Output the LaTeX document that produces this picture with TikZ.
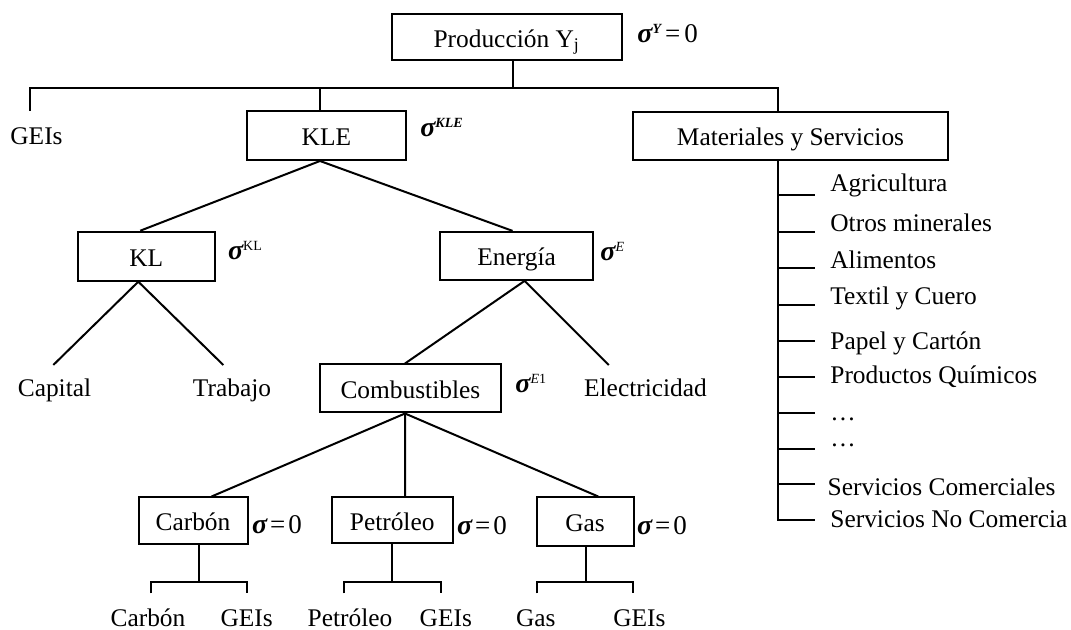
\documentclass[tikz,border=0pt]{standalone}
\usepackage{fontspec}
\setmainfont{Liberation Serif}
\newcommand\mysig{{\fontsize{14pt}{16pt}\selectfont\bfseries\itshape σ}}
\newcommand\mysup[1]{\raisebox{4.5pt}{\fontsize{7pt}{8pt}\selectfont #1}}
\begin{document}
\begin{tikzpicture}[x=0.5pt,y=-0.5pt,
  every node/.style={font=\fontsize{12.7pt}{15pt}\selectfont},
  box/.style={draw,line width=1pt,inner sep=0pt,text height=12pt,text depth=2pt},
  txt/.style={inner sep=0pt},
  sg/.style={inner sep=0pt,anchor=base west,font=\fontsize{13.5pt}{15pt}\selectfont},
  ln/.style={line width=1pt}]
\fill[white] (0,0) rectangle (1071,630);
\useasboundingbox (0,0) rectangle (1071,630);

% boxes
\node[box,minimum width=115pt,minimum height=23pt] (prod) at (506.7,37.2) {Producción Y\textsubscript{j}};
\node[box,minimum width=79.5pt,minimum height=24.5pt] (kle) at (326.4,135.5) {KLE};
\node[box,minimum width=157.5pt,minimum height=24pt] (mat) at (790.5,135.8) {Materiales y Servicios};
\node[box,minimum width=68.5pt,minimum height=24.5pt] (kl) at (146.3,256.2) {KL};
\node[box,minimum width=76.5pt,minimum height=24pt] (ene) at (516.6,255.9) {Energía};
\node[box,minimum width=90.5pt,minimum height=24pt] (comb) at (410.4,388.5) {Combustibles};
\node[box,minimum width=54.5pt,minimum height=23pt] (carb) at (193,520.5) {Carbón};
\node[box,minimum width=60.5pt,minimum height=23pt] (pet) at (392.2,520.3) {Petróleo};
\node[box,minimum width=48.5pt,minimum height=24pt] (gas) at (585,521.5) {Gas};

% sigma labels
\node[sg] (sY) at (637,43) {\mysig\mysup{\bfseries\itshape Y}\hspace{2pt}=\hspace{2pt}0};
\node[sg] (sKLE) at (420,137) {\mysig\mysup{\bfseries\itshape KLE}};
\node[sg] (sKL) at (227.7,260) {\mysig\mysup{KL}};
\node[sg] (sE) at (600,261) {\mysig\mysup{\itshape E}};
\node[sg] (sE1) at (515,393) {\mysig\mysup{\itshape E\upshape 1}};
\node[sg] (s1) at (251.7,533) {\mysig\hspace{1.5pt}=\hspace{1.5pt}0};
\node[sg] (s2) at (456.7,534) {\mysig\hspace{1.5pt}=\hspace{1.5pt}0};
\node[sg] (s3) at (636.7,534) {\mysig\hspace{1.5pt}=\hspace{1.5pt}0};

% leaf texts
\node[txt,anchor=base west] (geis0) at (10,145) {GEIs};
\node[txt,anchor=base] (cap) at (54.5,397) {Capital};
\node[txt,anchor=base] (trab) at (232,397) {Trabajo};
\node[txt,anchor=base] (elec) at (645.5,397) {Electricidad};
\node[txt,anchor=base] (lc) at (148,626) {Carbón};
\node[txt,anchor=base] (lg1) at (246.7,626) {GEIs};
\node[txt,anchor=base] (lp) at (350,626) {Petróleo};
\node[txt,anchor=base] (lg2) at (445.8,626) {GEIs};
\node[txt,anchor=base] (lgas) at (535.8,626) {Gas};
\node[txt,anchor=base] (lg3) at (639.4,626) {GEIs};

% materials list
\node[txt,anchor=base west] (m1) at (830,192) {Agricultura};
\node[txt,anchor=base west] (m2) at (830,231.7) {Otros minerales};
\node[txt,anchor=base west] (m3) at (830,268.3) {Alimentos};
\node[txt,anchor=base west] (m4) at (830,305) {Textil y Cuero};
\node[txt,anchor=base west] (m5) at (830,350) {Papel y Cartón};
\node[txt,anchor=base west] (m6) at (830,384) {Productos Químicos};
\node[txt,anchor=base west] (m7) at (830,421) {…};
\node[txt,anchor=base west] (m8) at (830,447) {…};
\node[txt,anchor=base west] (m9) at (827.3,495) {Servicios Comerciales};
\node[txt,anchor=base west] (m10) at (830,528) {Servicios No Comercia};

% coordinates
\coordinate (j0) at (512.7,87.7);
\coordinate (jL) at (30,87.7);
\coordinate (jR) at (777.8,87.7);
\coordinate (g0) at (30,111);
\coordinate (k0) at (320,87.7);
\coordinate (capT) at (53.3,365);
\coordinate (trabT) at (223.3,365);
\coordinate (elecT) at (608.8,365);
\coordinate (lstEnd) at (777.8,520);
\coordinate (cb) at (199,581.7);
\coordinate (cbl) at (151,593.3);
\coordinate (cbr) at (247,593.3);
\coordinate (pb) at (392.3,581.7);
\coordinate (pbl) at (344,593.3);
\coordinate (pbr) at (440.7,593.3);
\coordinate (gb) at (585.7,581.7);
\coordinate (gbl) at (536.7,593.3);
\coordinate (gbr) at (633.3,593.3);

% top level
\draw[ln] (prod.south -| j0) -- (j0);
\draw[ln] (g0) -- (jL) -- (jR) -- (mat.north -| jR);
\draw[ln] (k0) -- (kle.north -| k0);

% KLE
\draw[ln] (kle.south -| k0) -- ([xshift=-3pt]kl.north);
\draw[ln] (kle.south -| k0) -- ([xshift=-2pt]ene.north);

% KL
\draw[ln] ([xshift=-4pt]kl.south) -- (capT);
\draw[ln] ([xshift=-4pt]kl.south) -- (trabT);

% Energia
\draw[ln] ([xshift=4pt]ene.south) -- ([xshift=-2.7pt]comb.north);
\draw[ln] ([xshift=4pt]ene.south) -- (elecT);

% Combustibles
\draw[ln] ([xshift=-2.7pt]comb.south) -- ([xshift=9.3pt]carb.north);
\draw[ln] ([xshift=-2.7pt]comb.south) -- ([xshift=6.4pt]pet.north);
\draw[ln] ([xshift=-2.7pt]comb.south) -- ([xshift=6.6pt]gas.north);

% fuel brackets
\draw[ln] (carb.south -| cb) -- (cb);
\draw[ln] (cbl) |- (cb) -| (cbr);
\draw[ln] (pet.south -| pb) -- (pb);
\draw[ln] (pbl) |- (pb) -| (pbr);
\draw[ln] (gas.south -| gb) -- (gb);
\draw[ln] (gbl) |- (gb) -| (gbr);

% materials list
\draw[ln] (mat.south -| jR) -- (lstEnd) -- ++(37.2,0);
\foreach \yy in {195,231.7,268.3,305,340.7,376.7,413.3,449.3,484} {
  \draw[ln] (777.8,\yy) -- (815,\yy);
}
\end{tikzpicture}
\end{document}
